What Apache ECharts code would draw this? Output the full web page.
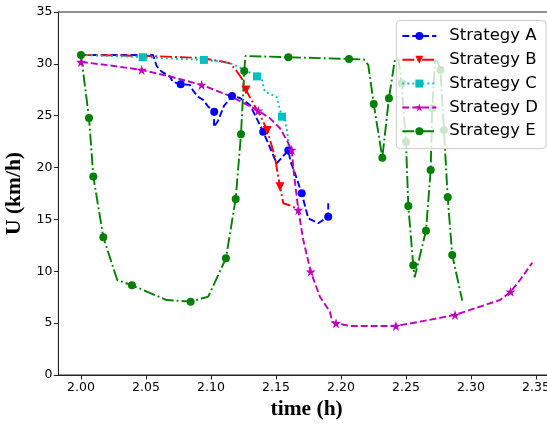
<!DOCTYPE html>
<html><head><meta charset="utf-8">
<script src="https://cdn.jsdelivr.net/npm/echarts@6/dist/echarts.min.js"></script>
<style>html,body{margin:0;padding:0;background:#fff}#c{width:547px;height:424px}</style>
</head><body><div id="c"></div>
<script>
// ---- data (time in h, U in km/h); marker indices mark where symbols are drawn ----
const seriesNames = ['Strategy A', 'Strategy B', 'Strategy C', 'Strategy D', 'Strategy E'];
const xTicks = [2.00, 2.05, 2.10, 2.15, 2.20, 2.25, 2.30, 2.35];
const yTicks = [0, 5, 10, 15, 20, 25, 30, 35];

const tA = [2.000,2.0554,2.0582,2.0621,2.0685,2.0705,2.0767,2.0838,2.0864,2.0902,2.0941,2.0979,2.1025,2.1023,2.1054,2.1100,2.1162,2.1223,2.1300,2.1402,2.1505,2.1595,2.1613,2.1646,2.1698,2.1748,2.1825,2.1902,2.1902];
const uA = [30.86,30.86,29.80,29.25,28.77,28.28,28.03,27.97,27.39,26.81,26.52,25.87,25.39,23.91,24.49,25.94,26.90,26.71,26.04,23.46,20.41,21.65,20.54,19.45,17.52,15.11,14.63,15.27,16.56];
const mA = [6,12,16,19,21,24,27];

const tB = [2.000,2.0531,2.0915,2.1085,2.1146,2.1185,2.1236,2.1269,2.1325,2.1377,2.1433,2.1492,2.1531,2.1556,2.1633,2.1669];
const uB = [30.86,30.76,30.57,30.23,30.04,29.51,28.61,27.48,26.20,25.07,23.58,21.02,18.16,16.56,16.23,15.91];
const mB = [7,10,12];

const tC = [2.000,2.0475,2.0946,2.1146,2.1262,2.1354,2.1392,2.1415,2.1505,2.1527,2.1546,2.1569,2.1587,2.1596,2.1604];
const uC = [30.86,30.64,30.38,30.09,29.41,28.79,28.45,27.29,26.84,25.75,24.91,24.49,23.43,22.18,21.50];
const mC = [1,2,5,10];

const tD = [2.000,2.0223,2.0467,2.0685,2.0928,2.1146,2.1364,2.1454,2.1531,2.1582,2.1621,2.1638,2.1672,2.1710,2.1767,2.1838,2.1915,2.1933,2.1962,2.2069,2.2423,2.2608,2.2877,2.3223,2.3305,2.3377,2.3472];
const uD = [30.18,29.85,29.41,28.78,27.97,26.90,25.49,24.75,23.79,22.66,21.70,19.45,15.91,13.02,9.96,7.55,6.10,5.14,4.99,4.73,4.73,5.14,5.79,7.23,8.03,9.16,10.83];
const mD = [0,2,4,6,10,12,14,18,20,22,24];

const tE = [2.000,2.0062,2.0095,2.0172,2.0279,2.0392,2.0659,2.0844,2.0979,2.1115,2.1190,2.1231,2.1256,2.1265,2.1595,2.2062,2.2177,2.2210,2.2252,2.2318,2.2369,2.2415,2.2442,2.2467,2.2500,2.2518,2.2556,2.2567,2.2654,2.2690,2.2702,2.2723,2.2742,2.2765,2.2792,2.2821,2.2856,2.2933];
const uE = [30.86,24.78,19.14,13.28,9.16,8.65,7.23,7.07,7.55,11.25,16.97,23.21,29.32,30.76,30.64,30.47,30.42,29.89,26.13,20.95,26.68,30.44,30.47,28.13,22.47,16.30,10.58,9.42,13.92,19.77,25.72,30.28,30.33,29.41,23.63,17.14,11.57,7.17];
const mE = [0,1,2,3,5,7,9,10,11,12,14,15,18,19,20,23,24,25,26,28,29,30,33,34,35,36];

// ---- styling ----
const STAR = 'path://M0,-10 L2.245,-3.09 L9.511,-3.09 L3.633,1.18 L5.878,8.09 L0,3.82 L-5.878,8.09 L-3.633,1.18 L-9.511,-3.09 L-2.245,-3.09 Z';
const styles = [
  {color:'#0000ff', dash:[6.9,3.0], symbol:'circle', size:8, rot:0},
  {color:'#ff0000', dash:[11.9,3,1.9,3], symbol:'triangle', size:9, rot:180},
  {color:'#00bfbf', dash:[1.9,3.1], symbol:'rect', size:8, rot:0},
  {color:'#bf00bf', dash:[6.9,3.0], symbol:STAR, size:10, rot:0},
  {color:'#008000', dash:[11.9,3,1.9,3], symbol:'circle', size:8, rot:0}
];
const ts = [tA,tB,tC,tD,tE], us = [uA,uB,uC,uD,uE], ms = [mA,mB,mC,mD,mE];

const series = seriesNames.map((name, k) => {
  const st = styles[k];
  const data = ts[k].map((t, i) => {
    const item = {value:[t, us[k][i]]};
    if (ms[k].indexOf(i) < 0) item.symbol = 'none';
    return item;
  });
  return {
    name, type:'line', data,
    symbol: st.symbol, symbolSize: st.size, symbolRotate: st.rot,
    showSymbol:true, showAllSymbol:true, animation:false, clip:true,
    lineStyle:{color:st.color, width:1.9, type:st.dash, cap:'butt'},
    itemStyle:{color:st.color, borderWidth:0},
    emphasis:{disabled:true}
  };
});

const chart = echarts.init(document.getElementById('c'), null, {renderer:'canvas'});
chart.setOption({
  animation:false,
  backgroundColor:'#fff',
  grid:{left:58.4, top:12, width:496.5, height:363, outerBoundsMode:'none', containLabel:false,
        show:true, borderColor:'#222', borderWidth:1, backgroundColor:'transparent'},
  xAxis:{
    type:'value', min:1.98264, max:2.36456,
    name:'time (h)', nameLocation:'middle', nameGap:23,
    nameTextStyle:{fontFamily:'Liberation Serif', fontWeight:'bold', fontSize:21.5, color:'#000'},
    axisLine:{show:true, onZero:false, lineStyle:{color:'#222', width:1}},
    axisTick:{show:true, length:4.5, customValues:xTicks, lineStyle:{color:'#222'}},
    axisLabel:{customValues:xTicks, formatter:v=>v.toFixed(2), fontFamily:'DejaVu Sans', fontSize:12.5, color:'#000', margin:6},
    splitLine:{show:false}
  },
  yAxis:{
    type:'value', min:0, max:35, interval:5,
    name:'U (km/h)', nameLocation:'middle', nameGap:32, nameRotate:90,
    nameTextStyle:{fontFamily:'Liberation Serif', fontWeight:'bold', fontSize:21.5, color:'#000'},
    axisLine:{show:true, lineStyle:{color:'#222', width:1}},
    axisTick:{show:true, length:4.5, lineStyle:{color:'#222'}},
    axisLabel:{fontFamily:'DejaVu Sans', fontSize:12.5, color:'#000', margin:6},
    splitLine:{show:false}
  },
  legend:{
    orient:'vertical', right:1, top:20.5,
    itemWidth:34, itemHeight:10, itemGap:6.8,
    padding:[7,8,9,5],
    backgroundColor:'rgba(255,255,255,0.8)', borderColor:'#cccccc', borderWidth:1, borderRadius:4,
    textStyle:{fontFamily:'DejaVu Sans', fontSize:16.5, color:'#000', padding:[0,0,0,8]},
    data: seriesNames
  },
  series
});
</script></body></html>
